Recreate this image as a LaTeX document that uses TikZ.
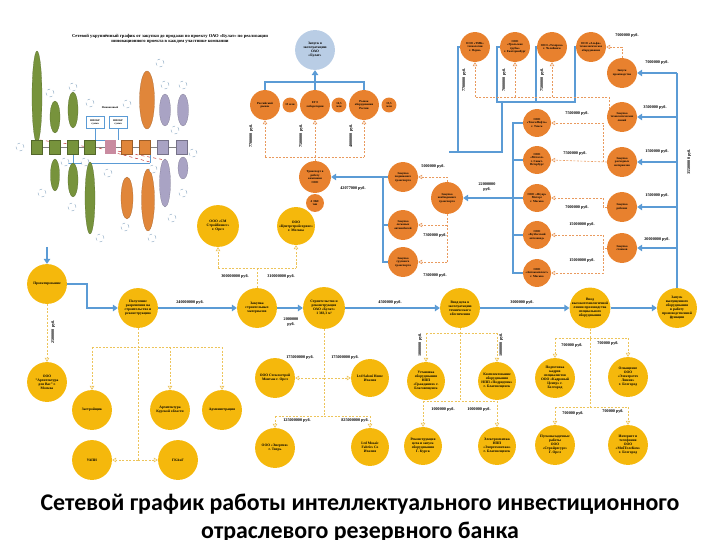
\documentclass[tikz,border=0pt]{standalone}
\usepackage{fontspec}
\setmainfont{Liberation Serif}
\newfontfamily\titlefont{Carlito}
\usetikzlibrary{arrows.meta}
\definecolor{cyel}{HTML}{F5B80C}
\definecolor{corg}{HTML}{E8812E}
\definecolor{cblu}{HTML}{5B9BD5}
\definecolor{clbl}{HTML}{B9CDE5}
\definecolor{cdor}{HTML}{E99A5E}
\definecolor{cdye}{HTML}{EDC45A}
\definecolor{cgrn}{HTML}{77933C}
\definecolor{cgry}{HTML}{A9A3C4}
\definecolor{cpnk}{HTML}{C98BA0}
\definecolor{cior}{HTML}{E0863A}
\newcommand{\ctext}{\fontsize{3.6}{4.0}\selectfont\bfseries}
\newcommand{\otext}{\fontsize{3.0}{3.4}\selectfont\bfseries}
\newcommand{\ltext}{\fontsize{4.2}{4.6}\selectfont\bfseries}
\tikzset{
 cbase/.style={circle, inner sep=0pt, align=center},
 yc/.style={cbase, fill=cyel, minimum size=#1, font=\ctext},
 oc/.style={cbase, fill=corg, minimum size=#1, font=\otext},
 lc/.style={cbase, fill=clbl, minimum size=#1, font=\ctext},
 blu/.style={draw=cblu, line width=2.2bp, -{Triangle[length=5bp,width=6.5bp]}},
 bline/.style={draw=cblu, line width=2.2bp},
 dor/.style={draw=cdor, dash pattern=on 2bp off 1.5bp, line width=0.6bp},
 dora/.style={dor, -{Triangle[open,length=4bp,width=4.5bp]}},
 dye/.style={draw=cdye, dash pattern=on 2bp off 1.5bp, line width=0.6bp},
 dyea/.style={dye, -{Triangle[open,length=4bp,width=4.5bp]}},
 lbl/.style={font=\ltext, inner sep=0pt, align=center},
 gel/.style={fill=cgrn, draw=cgrn!70!black, line width=0.2bp},
 oel/.style={fill=cior, draw=cior!70!black, line width=0.2bp},
 qel/.style={fill=cgry, draw=cgry!70!black, line width=0.2bp},
 smc/.style={circle, draw=cblu!60!gray, dashed, line width=0.3bp, minimum size=8bp, inner sep=0pt, fill=white},
}
\begin{document}
\begin{tikzpicture}[x=1bp,y=-1bp]
\useasboundingbox (0,0) rectangle (720,540);

% ================= inset (top-left) =================
\node[font=\fontsize{4.6}{5.2}\selectfont\bfseries, align=center] (ititle) at (170,38.5)
 {Сетевой укрупнённый график от закупки до продажи по проекту ОАО «Булат» по реализации\\
  инновационного проекта в каждом участнике компании};
\draw[cblu, line width=0.5bp] (65,163) -- (150,163);
\draw[cblu, line width=0.5bp] (73,147) -- (73,163);
\draw[cblu, line width=0.5bp] (150,147) -- (150,163);
\draw[cblu, line width=0.5bp] (95,128) -- (95,140) -- (110,140);
\draw[cblu, line width=0.5bp] (118,128) -- (118,140);
\draw[red!70!black, dashed, line width=0.4bp] (112,150) -- (165,160);
\draw[red!70!black, dashed, line width=0.4bp] (112,152) -- (150,162);
\draw[red!70!black, dashed, line width=0.4bp] (40,140) -- (110,150);
\draw[gray, line width=0.4bp] (31,147) -- (188,147);
\foreach \cx/\cy/\w/\h in {37/97/10/92, 55/117/10/32, 73/110/10/36, 55/175/9/32, 73/180/10/34, 90/198/10/72}
  \fill[gel] (\cx,\cy) ellipse ({\w/2} and {\h/2});
\foreach \cx in {37,55,73,90}
  \fill[gel] (\cx-5.5,140) rectangle (\cx+5.5,154);
\fill[cpnk] (104.5,140) rectangle (115.5,154);
\foreach \cx in {127,145}
  \fill[oel] (\cx-5.5,140) rectangle (\cx+5.5,154);
\foreach \cx in {163,182}
  \fill[qel] (\cx-5.5,140) rectangle (\cx+5.5,154);
\foreach \cx/\cy/\w/\h in {147/100/15/58, 127/198/12/42, 148/200/13/62}
  \fill[oel] (\cx,\cy) ellipse ({\w/2} and {\h/2});
\foreach \cx/\cy/\w/\h in {165/110/11/32, 183/110/11/32, 165/183/11/48, 183/168/10/22}
  \fill[qel] (\cx,\cy) ellipse ({\w/2} and {\h/2});
\node[draw=cblu, fill=white, line width=0.4bp, minimum width=18bp, minimum height=12bp, inner sep=0pt, font=\fontsize{2.6}{3}\selectfont\bfseries, align=center] (ib1) at (95,122) {НИОКР\\сумма};
\node[draw=cblu, fill=white, line width=0.4bp, minimum width=18bp, minimum height=12bp, inner sep=0pt, font=\fontsize{2.6}{3}\selectfont\bfseries, align=center] (ib2) at (118,122) {НИОКР\\сумма};
\node[font=\fontsize{2.8}{3}\selectfont\bfseries, inner sep=0pt] (ifin) at (110,108) {Финансовый};
\foreach \cx/\cy in {20/147, 50/93, 73/87, 90/103, 127/104, 160/63, 165/85, 183/85, 175/130, 193/153,
  42/193, 72/207, 108/173, 153/169, 183/193, 172/218, 125/227, 100/238, 65/162, 85/162, 152/238}
  \node[smc] at (\cx,\cy) {};

% ================= top middle =================
\node[lc=40] (LB) at (315,50) {Запуск в\\эксплуатацию\\ОАО\\«Булат»};
\node[oc=30] (O1) at (265,105) {Российский\\рынок};
\node[oc=15] (s1) at (290,105) {13 млн};
\node[oc=30] (O2) at (315,105) {ЕГЭ\\лаборатории};
\node[oc=15] (s2) at (339,105) {14,5\\млн};
\node[oc=30] (O3) at (364,105) {Рынок\\оборудования\\России};
\node[oc=15] (s3) at (389,105) {15,5\\млн};
\node[oc=32] (T) at (315,177) {Транспорт в\\работу\\компании\\ООО};
\node[oc=18] (Ts) at (315,203) {4 ЭКС\\тип};
\node[oc=30] (R1) at (403,177) {Закупка\\подвижного\\транспорта};
\node[oc=30] (R2) at (403,225) {Закупка\\легковых\\автомобилей};
\node[oc=30] (R3) at (403,262) {Закупка\\грузового\\транспорта};
\node[oc=32] (R0) at (447,198) {Закупка\\необходимого\\транспорта};

% ================= top right =================
\node[oc=30] (Tp1) at (475,47) {ООО «ТМК»\\технологии\\г. Пермь};
\node[oc=30] (Tp2) at (515,47) {ООО\\«Уральские\\трубы»\\г. Екатеринбург};
\node[oc=30] (Tp3) at (552,47) {ООО «Техпром»\\г. Челябинск};
\node[oc=30] (Tp4) at (591,47) {ООО «Альфа»\\технологическое\\оборудование};
\node[oc=28] (L1) at (537,123) {ООО\\«ТомскНефть»\\г. Томск};
\node[oc=28] (L2) at (537,160) {ООО\\«Металл»\\г. Санкт-\\Петербург};
\node[oc=28] (L3) at (537,198) {ООО «Ягуар»\\Моторс\\г. Москва};
\node[oc=28] (L4) at (537,235) {ООО\\«Кузбасский\\автозавод»};
\node[oc=28] (L5) at (537,273) {ООО\\«Автокомплект»\\г. Москва};
\node[oc=30] (C1) at (622,73) {Запуск\\производства};
\node[oc=30] (C2) at (622,117) {Закупка\\технологических\\линий};
\node[oc=30] (C3) at (622,162) {Закупка\\расходных\\материалов};
\node[oc=30] (C4) at (622,207) {Закупка\\рабочих};
\node[oc=30] (C5) at (622,248) {Закупка\\станков};

% ================= main row =================
\node[yc=40] (Y1) at (47,284) {Проектирование};
\node[yc=40] (Y2) at (138,308) {Получение\\разрешения на\\строительство и\\реконструкцию};
\node[yc=40] (Y3) at (257,308) {Закупка\\строительных\\материалов};
\node[yc=42] (Y4) at (324,308) {Строительство и\\реконструкция\\ОАО «Булат»\\1 383,3 м²};
\node[yc=40] (Y5) at (460,308) {Ввод цеха в\\эксплуатацию\\технического\\обеспечения};
\node[yc=40] (Y6) at (590,308) {Ввод\\высокотехнологичной\\линии производства\\специального\\оборудования};
\node[yc=40] (Y7) at (677,308) {Запуск\\выпущенного\\оборудования\\в работу\\производственной\\функции};

% ================= other yellow =================
\node[yc=42] (A1) at (218,226) {ООО «СМ\\Стройбизнес»\\г. Орел};
\node[yc=38] (A2) at (296,226) {ООО\\«Центрстройсервис»\\г. Москва};
\node[yc=40] (B0) at (47,382) {ООО\\"Архитектура\\для Вас" г.\\Москва};
\node[yc=40] (B1) at (92,410) {Застройщик};
\node[yc=40] (B2) at (170,410) {Архитектура\\Курской области};
\node[yc=40] (B3) at (222,410) {Администрация};
\node[yc=40] (B4) at (92,460) {УАПИ};
\node[yc=40] (B5) at (178,460) {ГКАиГ};
\node[yc=40] (D1) at (275,378) {ООО Стеклострой\\Монтаж г. Орел};
\node[yc=38] (D2) at (370,378) {Ltd Saloni Home\\Италия};
\node[yc=40] (D3) at (275,448) {ООО «Энергия»\\г. Тверь};
\node[yc=38] (D4) at (370,447) {Ltd Mosaic\\Fabrics Co\\Италия};
\node[yc=38] (E1) at (426,381) {Установка\\оборудования\\НПП\\«Гражданин» г.\\Благовещенск};
\node[yc=38] (E2) at (497,381) {Комплектование\\оборудования\\НПП «Подрядчик»\\г. Благовещенск};
\node[yc=38] (E3) at (423,446) {Реконструкция\\цеха и запуск\\оборудования\\Г. Курск};
\node[yc=38] (E4) at (497,446) {Электромонтаж\\НПП\\«Энергомонтаж»\\г. Благовещенск};
\node[yc=40] (F1) at (555,378) {Подготовка\\кадров\\специалистов\\ООО «Кадровый\\Центр» г.\\Белгород};
\node[yc=40] (F2) at (628,377) {Оснащение\\ООО\\«Электротех\\Линия»\\г. Белгород};
\node[yc=40] (F3) at (555,445) {Пусконаладочные\\работы\\ООО\\«Стройресурс»\\Г. Орел};
\node[yc=40] (F4) at (628,445) {Интернет и\\телефония\\ООО\\«МобТелеКом»\\г. Белгород};

% ================= blue connectors =================
\coordinate (y1in) at (47,247);
\draw[blu] (y1in) -- (Y1.north);
\draw[blu] (Y1.east) -- (87,284) |- (Y2.west);
\draw[blu] (Y2) -- (Y3);
\draw[blu] (Y3) -- (Y4);
\draw[blu] (Y4) -- (Y5);
\draw[blu] (Y5) -- (Y6);
\draw[blu] (Y6) -- (Y7);
\draw[bline] (Y7.north) -- (Y7.north |- C1.east);
\foreach \n in {C1,C2,C3,C4,C5}
  \draw[blu] (Y7.north |- \n.east) -- (\n.east);
\draw[bline] (L1.west) -- (513,123) -- (513,273) -- (L5.west);
\draw[bline] (L2.west) -- (513,160);
\draw[bline] (L3.west) -- (513,198);
\draw[bline] (L4.west) -- (513,235);
\draw[blu] (513,198) -- (R0.east);
\draw[bline] (Tp1.west) -- (458,47) -- (458,152) -- (502,152) -- (502,102);
\draw[bline] (458,152) -- (449,152);
\draw[bline] (Tp2.west) -- (497,47) -- (497,102) -- (575,102) -- (575,47) -- (Tp4.west);
\draw[bline] (Tp3.west) -- (536,47) -- (536,102);
\draw[blu] (R1.west) -- (T.east);
\draw[bline] (383,177) -- (383,262) -- (R3.west);
\draw[bline] (383,225) -- (R2.west);
\draw[bline] (O1.north) -- (265,82) -- (364,82) -- (O3.north);
\draw[bline] (O2.north) -- (315,82);
\draw[blu] (315,82) -- (LB.south);

% ================= dashed orange =================
\draw[dora] (C1.north) |- (Tp4.east);
\draw[dor] (C2.150) |- (475,97);
\draw[dora] (475,97) -- (Tp1.south);
\draw[dora] (Tp2.south |- 475,97) -- (Tp2.south);
\draw[dora] (Tp3.south |- 475,97) -- (Tp3.south);
\draw[dora] (C3.west) -- (L2.east);
\draw[dora] (603,162) |- (L1.east);
\draw[dora] (C4.west) -- (603,207) -- (603,198) -- (L3.east);
\draw[dor] (C5.west) -- (603,248);
\draw[dora] (603,248) |- (L4.east);
\draw[dora] (603,248) |- (L5.east);
\draw[dora] (R0.north) |- (R1.east);
\draw[dor] (R0.south) -- (447,262);
\draw[dora] (447,225) -- (R2.east);
\draw[dora] (447,262) -- (R3.east);
\draw[dor] (T.north) -- (315,157);
\draw[dor] (265,157) -- (364,157);
\draw[dora] (265,157) -- (O1.south);
\draw[dora] (315,157) -- (O2.south);
\draw[dora] (364,157) -- (O3.south);

% ================= dashed yellow =================
\draw[dye] (Y3.north) -- (257,268);
\draw[dye] (218,268) -- (296,268);
\draw[dyea] (218,268) -- (A1.south);
\draw[dyea] (296,268) -- (A2.south);
\draw[dyea] (Y1.south) -- (B0.north);
\draw[dye] (Y2.south) -- (138,460);
\draw[dye] (92,347) -- (222,347);
\draw[dyea] (92,347) -- (B1.north);
\draw[dyea] (170,347) -- (B2.north);
\draw[dyea] (222,347) -- (B3.north);
\draw[dyea] (138,460) -- (B4.east);
\draw[dyea] (138,460) -- (B5.west);
\draw[dye] (Y4.south) -- (324,416);
\draw[dyea] (324,378) -- (D1.east);
\draw[dyea] (324,378) -- (D2.west);
\draw[dye] (275,416) -- (370,416);
\draw[dyea] (275,416) -- (D3.north);
\draw[dyea] (370,416) -- (D4.north);
\draw[dye] (Y5.south) -- (460,401);
\draw[dye] (426,333) -- (497,333);
\draw[dyea] (426,333) -- (E1.north);
\draw[dyea] (497,333) -- (E2.north);
\draw[dye] (423,401) -- (497,401);
\draw[dyea] (423,401) -- (E3.north);
\draw[dyea] (497,401) -- (E4.north);
\draw[dye] (Y6.south) -- (590,407);
\draw[dye] (555,338) -- (628,338);
\draw[dyea] (555,338) -- (F1.north);
\draw[dyea] (628,338) -- (F2.north);
\draw[dye] (555,407) -- (628,407);
\draw[dyea] (555,407) -- (F3.north);
\draw[dyea] (628,407) -- (F4.north);

% ================= labels =================
\node[lbl] (l1) at (190,302) {240000000 руб.};
\node[lbl] (l2) at (291,322) {2000000\\руб.};
\node[lbl] (l3) at (390,302) {4500000 руб.};
\node[lbl] (l4) at (522,302) {3000000 руб.};
\node[lbl, rotate=90] (l5) at (53,332) {2500000 руб.};
\node[lbl] (l6) at (235,276) {300000000 руб.};
\node[lbl] (l7) at (281,276) {310000000 руб.};
\node[lbl] (l8) at (300,357) {175000000 руб.};
\node[lbl] (l9) at (345,357) {175000000 руб.};
\node[lbl] (l10) at (297,420) {125000000 руб.};
\node[lbl] (l11) at (355,420) {825000000 руб.};
\node[lbl, rotate=90] (l12) at (420,345) {1000000 руб.};
\node[lbl, rotate=90] (l13) at (501,345) {1000000 руб.};
\node[lbl] (l14) at (443,409) {1000000 руб.};
\node[lbl] (l15) at (479,409) {1000000 руб.};
\node[lbl] (l16) at (572,345) {700000 руб.};
\node[lbl] (l17) at (608,343) {700000 руб.};
\node[lbl] (l18) at (573,413) {700000 руб.};
\node[lbl] (l19) at (613,411) {700000 руб.};
\node[lbl] (l20) at (353,188) {42077000 руб.};
\node[lbl] (l21) at (433,166) {5000000 руб.};
\node[lbl] (l22) at (435,235) {7300000 руб.};
\node[lbl] (l23) at (435,275) {7300000 руб.};
\node[lbl] (l24) at (487,187) {22000000\\руб.};
\node[lbl, rotate=90] (l25) at (251,136) {7700000 руб.};
\node[lbl, rotate=90] (l26) at (301,136) {7500000 руб.};
\node[lbl, rotate=90] (l27) at (351,136) {4000000 руб.};
\node[lbl] (l28) at (627,35) {7000000 руб.};
\node[lbl] (l29) at (657,62) {7000000 руб.};
\node[lbl] (l30) at (655,107) {3500000 руб.};
\node[lbl] (l31) at (657,151) {1500000 руб.};
\node[lbl] (l32) at (657,195) {1500000 руб.};
\node[lbl] (l33) at (657,239) {20000000 руб.};
\node[lbl, rotate=90] (l34) at (689,162) {35500000 руб.};
\node[lbl] (l35) at (577,113) {7500000 руб.};
\node[lbl] (l36) at (575,153) {7500000 руб.};
\node[lbl] (l37) at (577,207) {7000000 руб.};
\node[lbl] (l38) at (582,224) {15000000 руб.};
\node[lbl] (l39) at (582,260) {15000000 руб.};
\node[lbl, rotate=90] (l40) at (464,80) {7700000 руб.};
\node[lbl, rotate=90] (l41) at (504,80) {7000000 руб.};
\node[lbl, rotate=90] (l42) at (542,80) {7500000 руб.};

% ================= title =================
\node[font=\titlefont\bfseries\fontsize{24}{28}\selectfont, anchor=base, inner sep=0pt] (t1) at (360,510)
  {Сетевой график работы интеллектуального инвестиционного};
\node[font=\titlefont\bfseries\fontsize{24}{28}\selectfont, anchor=base, inner sep=0pt] (t2) at (360,538)
  {отраслевого резервного банка};
\end{tikzpicture}
\end{document}
